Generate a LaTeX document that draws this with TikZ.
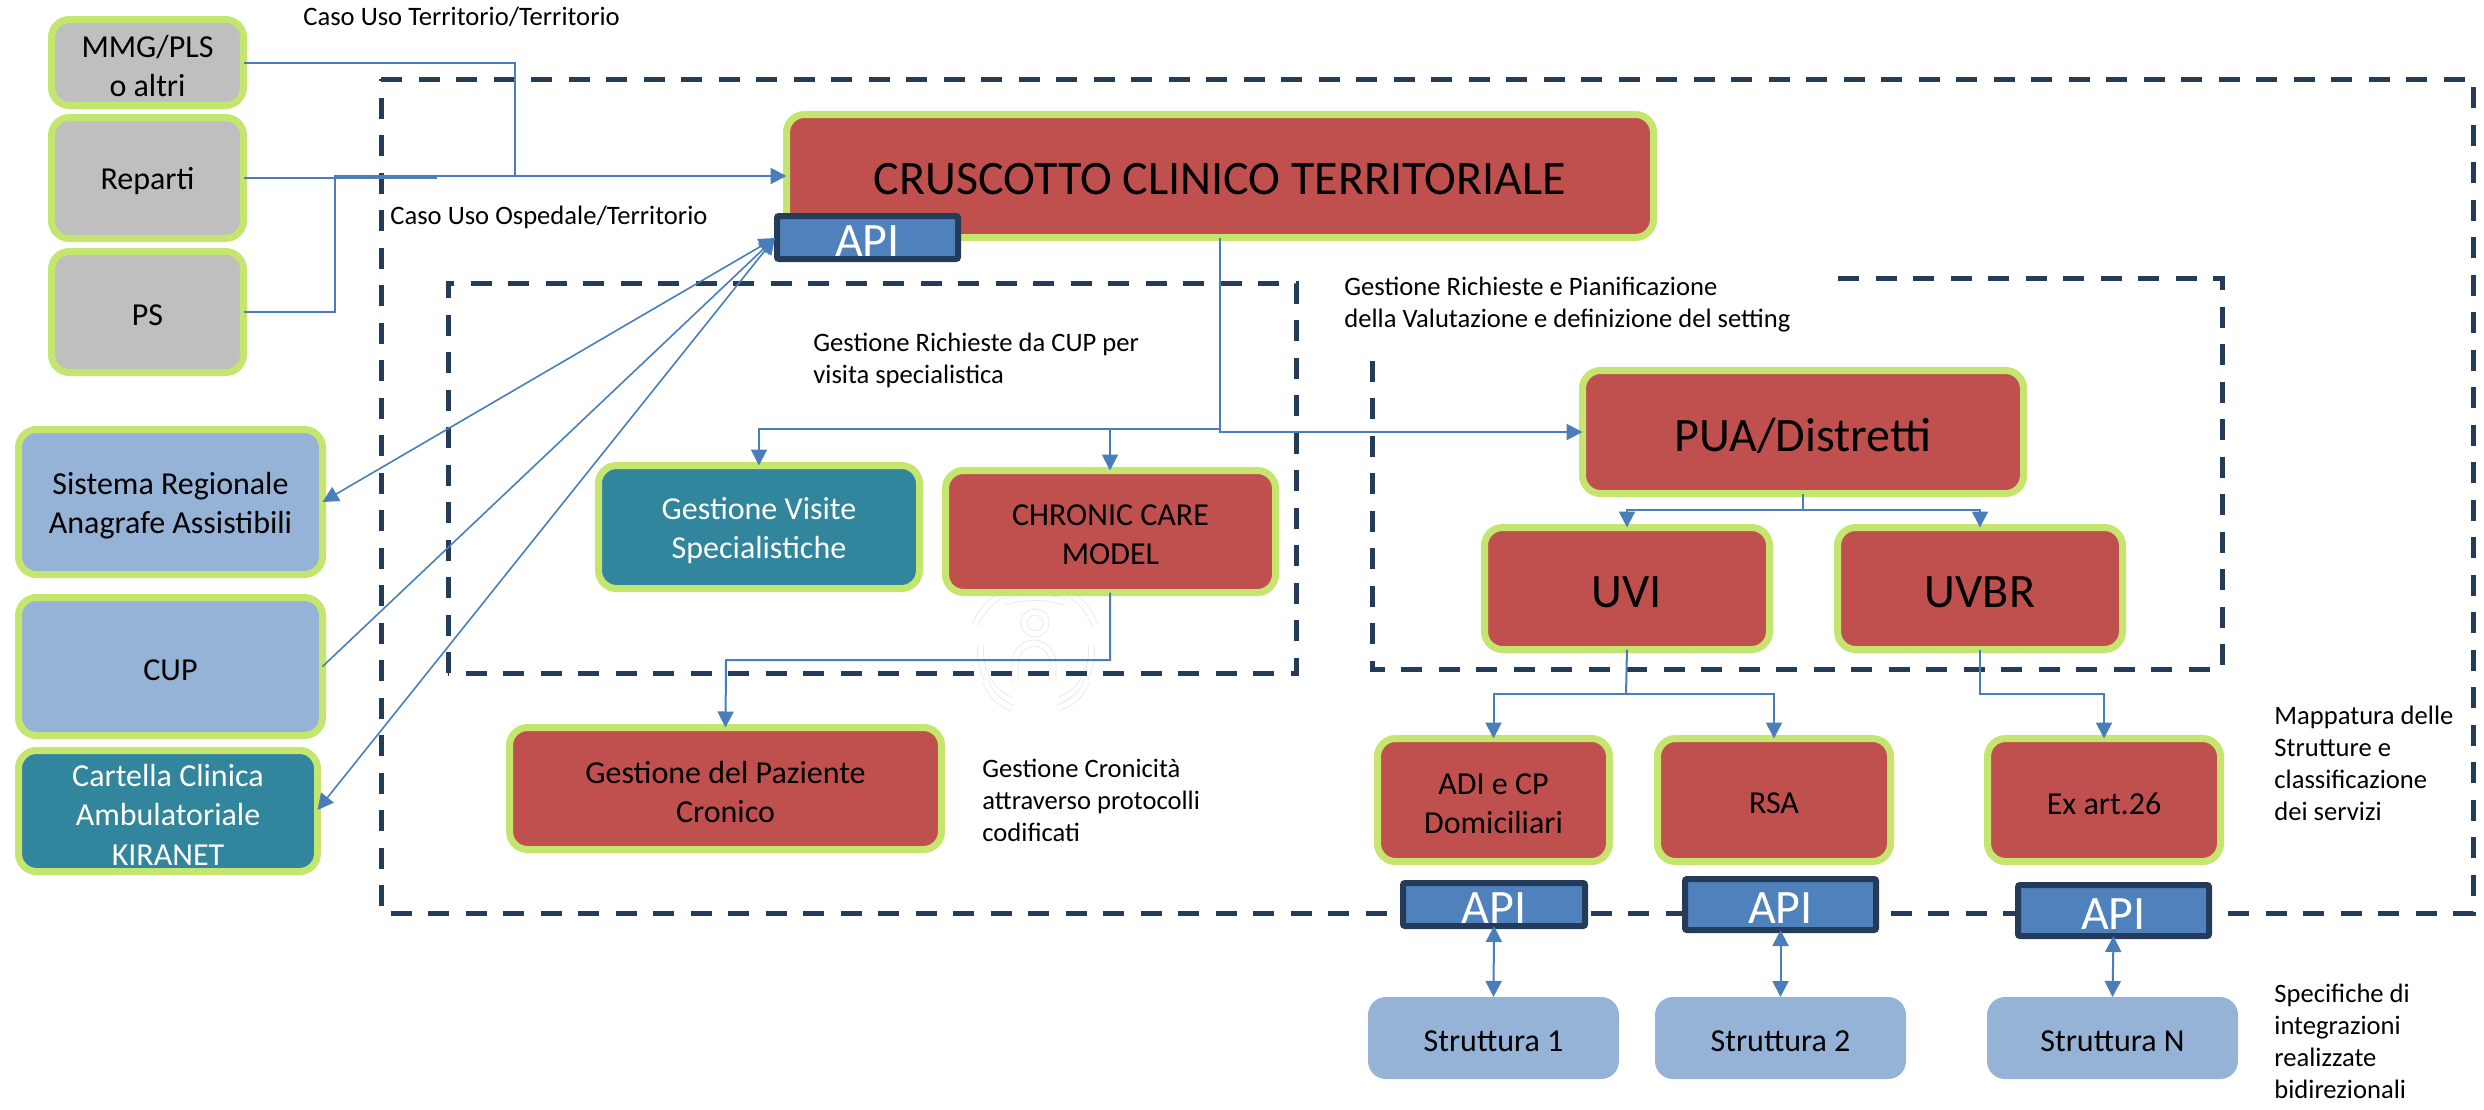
\documentclass[tikz,border=0pt]{standalone}
\usepackage{fontspec}
\setmainfont{Carlito}
\usetikzlibrary{arrows.meta,calc}
\definecolor{cred}{HTML}{C0504D}
\definecolor{cteal}{HTML}{31859C}
\definecolor{cgray}{HTML}{BFBFBF}
\definecolor{cblue}{HTML}{95B3D7}
\definecolor{cgreen}{HTML}{C4E66F}
\definecolor{cline}{HTML}{4A7EBB}
\definecolor{cnavy}{HTML}{243B5A}
\definecolor{capi}{HTML}{4F81BD}
\newcommand\smallfs{\fontsize{13.3}{16}\selectfont}
\newcommand\boxfs{\fontsize{16}{19.7}\selectfont}
\newcommand\bigfs{\fontsize{24}{28}\selectfont}
\tikzset{
  x=0.5pt,y=-0.5pt,
  base/.style={rounded corners=9pt,align=center,inner sep=0pt,outer sep=0pt,font=\boxfs},
  gbox/.style={base,draw=cgreen,line width=3.5pt},
  redbox/.style={gbox,fill=cred},
  tealbox/.style={gbox,fill=cteal,text=white},
  graybox/.style={gbox,fill=cgray},
  bluebox/.style={gbox,fill=cblue},
  strbox/.style={base,fill=cblue},
  apibox/.style={draw=cnavy,line width=3pt,fill=capi,text=white,inner sep=0pt,outer sep=0pt,rounded corners=1pt,align=center,font=\bigfs},
  dashbox/.style={draw=cnavy,line width=2.5pt,dash pattern=on 10.5pt off 8.25pt},
  flow/.style={draw=cline,line width=1pt},
  thin flow/.style={draw=cline,line width=0.8pt},
  arr/.style={-{Triangle[length=8pt,width=8pt]}},
  arrb/.style={{Triangle[length=8pt,width=8pt]}-{Triangle[length=8pt,width=8pt]}},
  lab/.style={anchor=west,align=left,inner sep=0pt,font=\smallfs},
  mark line/.style={draw=black!9,line width=0.4pt,double=white,double distance=2.6pt},
}
% name, style, x1, y1, x2, y2 (outer limits in reference pixels), inset, text
\newcommand\bx[8]{%
  \pgfmathsetmacro\bw{(#5-#3-2*#7)*0.5}%
  \pgfmathsetmacro\bh{(#6-#4-2*#7)*0.5}%
  \node[#2,minimum width=\bw pt,minimum height=\bh pt] (#1) at ({(#3+#5)/2},{(#4+#6)/2}) {};%
  \node[#2,draw=none,fill=none,rounded corners=0pt] (#1-t) at ({(#3+#5)/2},{(#4+#6)/2+3.5}) {#8};%
}
\begin{document}
\begin{tikzpicture}
\useasboundingbox (0,0) rectangle (2484,1109);
\fill[white] (0,0) rectangle (2484,1109);
% watermark
\draw[mark line] (1035,623) circle[radius=11];
\draw[mark line,rounded corners=10pt] (1015,682) -- (1015,643) -- (1053,643) -- (1053,682);
\draw[mark line] (1005,602) .. controls (1025,596) and (1045,596) .. (1065,602);
\draw[mark line] (975,625) .. controls (980,612) and (990,602) .. (1002,594);
\draw[mark line] (1095,625) .. controls (1090,612) and (1082,602) .. (1070,594);
\draw[mark line] (981,645) .. controls (978,670) and (990,690) .. (1010,700);
\draw[mark line] (1091,645) .. controls (1094,670) and (1082,690) .. (1060,700);
\draw[mark line] (985,680) .. controls (990,695) and (1000,703) .. (1012,708);
\draw[mark line] (1087,680) .. controls (1082,695) and (1072,703) .. (1058,708);
% dashed frames
\draw[dashbox] (381,79) -- (2473,79) -- (2473,913) -- (381,913) -- cycle;
\draw[dashbox] (448,673) -- (448,283) -- (1296,283) -- (1296,673) -- cycle;
\draw[dashbox] (1838,278) -- (2222,278) -- (2222,669) -- (1372,669) -- (1372,358);
% boxes
\bx{mmg}{graybox}{48}{16}{247}{109}{3.5}{MMG/PLS\\o altri}
\bx{rep}{graybox}{48}{114}{247}{242}{3.5}{Reparti}
\bx{ps}{graybox}{48}{248}{247}{376}{3.5}{PS}
\bx{sra}{bluebox}{15}{426}{326}{578}{3.5}{Sistema Regionale\\Anagrafe Assistibili}
\bx{cup}{bluebox}{15}{594}{326}{739}{3.5}{CUP}
\bx{kir}{tealbox}{15}{747}{321}{875}{3.5}{Cartella Clinica\\Ambulatoriale\\KIRANET}
\bx{crus}{redbox,font=\bigfs}{783}{111}{1657}{241}{3.5}{CRUSCOTTO CLINICO TERRITORIALE}
\bx{visite}{tealbox}{595}{462}{923}{592}{3.5}{Gestione Visite\\Specialistiche}
\bx{ccm}{redbox}{942}{467}{1279}{596}{3.5}{CHRONIC CARE\\MODEL}
\bx{paz}{redbox}{506}{724}{945}{853}{3.5}{Gestione del Paziente\\Cronico}
\bx{pua}{redbox,font=\bigfs}{1579}{367}{2027}{497}{3.5}{PUA/Distretti}
\bx{uvi}{redbox,font=\bigfs}{1481}{524}{1773}{653}{3.5}{UVI}
\bx{uvbr}{redbox,font=\bigfs}{1834}{524}{2126}{653}{3.5}{UVBR}
\bx{adi}{redbox}{1374}{735}{1613}{865}{3.5}{ADI e CP\\Domiciliari}
\bx{rsa}{redbox}{1654}{735}{1894}{865}{3.5}{RSA}
\bx{exa}{redbox}{1984}{735}{2224}{865}{3.5}{Ex art.26}
\bx{s1}{strbox}{1368}{997}{1619}{1079}{0}{Struttura 1}
\bx{s2}{strbox}{1655}{997}{1906}{1079}{0}{Struttura 2}
\bx{sn}{strbox}{1987}{997}{2238}{1079}{0}{Struttura N}
% API boxes
\bx{apitop}{apibox}{774}{213}{961}{262}{3}{API}
\bx{api1}{apibox}{1400}{880}{1588}{929}{3}{API}
\bx{api2}{apibox}{1682}{876}{1879}{933}{3}{API}
\bx{api3}{apibox}{2015}{882}{2212}{939}{3}{API}
% junction points
\coordinate (jm) at (515,176);
\coordinate (jr) at (437,178);
\coordinate (jp) at (335,176);
\coordinate (jc) at (1220,429);
\coordinate (jv) at (759,429);
\coordinate (jcc) at (1110,429);
\coordinate (jk) at (726,660);
\coordinate (jpu) at (1803,510);
\coordinate (jvi) at (1626,694);
\coordinate (jbr) at (1980,694);
% left-hand inputs
\draw[flow] (mmg.east) -| (jm);
\draw[flow] (rep.east) -- (jr);
\draw[flow,arr] (ps.east) -| (jp) -- (crus.west);
% API links
\coordinate (apiin) at (775,238);
\draw[thin flow,arrb] (apiin) -- (sra.east |- 0,502);
\draw[thin flow,arr] (cup.east) -- (apiin);
\draw[thin flow,arrb] (apiin) -- (kir.east |- 0,810);
% cruscotto outputs
\draw[flow,arr] (crus.south -| jc) -- (jc) -- (1220,432) -- (pua.west);
\draw[flow,arr] (jc) -- (jv) -- (visite.north -| jv);
\draw[flow,arr] (jcc) -- (ccm.north -| jcc);
\draw[flow,arr] (ccm.south -| jcc) |- (jk) -- (paz.north);
% PUA
\draw[flow] (pua.south -| jpu) -- (jpu);
\draw[flow,arr] (jpu) -- (uvi.north |- jpu) -- (uvi.north);
\draw[flow,arr] (jpu) -- (uvbr.north |- jpu) -- (uvbr.north);
% UVI / UVBR down
\draw[flow] (uvi.south) -- (jvi);
\draw[flow,arr] (jvi) -- (adi.north |- jvi) -- (adi.north);
\draw[flow,arr] (jvi) -- (rsa.north |- jvi) -- (rsa.north);
\draw[flow,arr] (uvbr.south) -- (jbr) -- (exa.north |- jbr) -- (exa.north);
% bidirectional
\draw[flow,arrb] (api1.south) -- (s1.north);
\draw[flow,arrb] (api2.south) -- (s2.north);
\draw[flow,arrb] (api3.south) -- (sn.north);
% labels
\node[lab] (t1) at (303,17) {Caso Uso Territorio/Territorio};
\node[lab] (t2) at (390,217) {Caso Uso Ospedale/Territorio};
\node[lab] (t3) at (813,360) {Gestione Richieste da CUP per\\visita specialistica};
\node[lab] (t4) at (1344,305) {Gestione Richieste e Pianificazione\\della Valutazione e definizione del setting};
\node[lab] (t5) at (982,800) {Gestione Cronicità\\attraverso protocolli\\codificati};
\node[lab] (t6) at (2274,763) {Mappatura delle\\Strutture e\\classificazione\\dei servizi};
\node[lab] (t7) at (2274,1041) {Specifiche di\\integrazioni\\realizzate\\bidirezionali};
\end{tikzpicture}
\end{document}
